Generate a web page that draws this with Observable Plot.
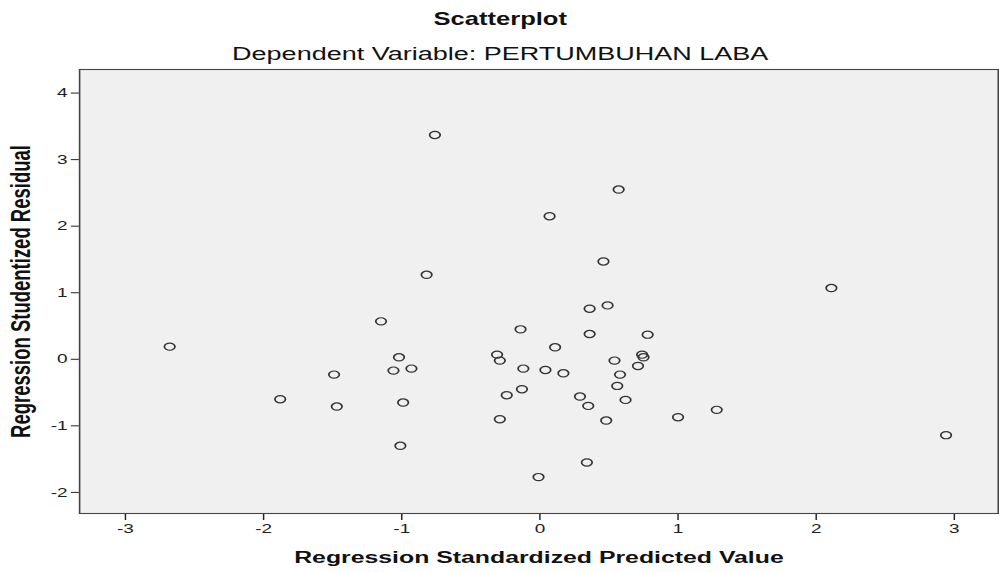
<!DOCTYPE html>
<html>
<head>
<meta charset="utf-8">
<script src="https://cdn.jsdelivr.net/npm/d3@7"></script>
<script src="https://cdn.jsdelivr.net/npm/@observablehq/plot@0.6"></script>
<style>
  html, body { margin: 0; padding: 0; background: #ffffff; }
  #chart svg { display: block; }
</style>
</head>
<body>
<div id="chart"></div>
<script>
// ---- data ----
const predicted = [-0.76, 0.57, 0.07, 0.46, -0.82, 2.11, 0.36, 0.49, -1.15, -0.14, 0.36, 0.78, -2.68, 0.11, -1.02, -0.31, -0.29, 0.54, 0.74, 0.75, 0.71, -1.06, -0.93, -1.49, -0.12, 0.04, 0.17, 0.58, 0.56, -0.13, -1.88, 0.62, 0.29, -0.24, -1.47, -0.99, 0.35, -0.29, 0.48, 1.00, 1.28, -1.01, 0.34, -0.01, 2.94];
const residual  = [3.37, 2.55, 2.15, 1.47, 1.27, 1.07, 0.76, 0.81, 0.57, 0.45, 0.38, 0.37, 0.19, 0.18, 0.03, 0.07, -0.02, -0.02, 0.07, 0.03, -0.10, -0.17, -0.14, -0.23, -0.14, -0.16, -0.21, -0.23, -0.40, -0.45, -0.60, -0.61, -0.56, -0.54, -0.71, -0.65, -0.70, -0.90, -0.92, -0.87, -0.76, -1.30, -1.55, -1.77, -1.14];
const xTicks = [-3, -2, -1, 0, 1, 2, 3];
const yTicks = [-2, -1, 0, 1, 2, 3, 4];
const titleText = "Scatterplot";
const subtitleText = "Dependent Variable: PERTUMBUHAN LABA";
const xLabel = "Regression Standardized Predicted Value";
const yLabel = "Regression Studentized Residual";

const points = predicted.map((x, i) => ({x, y: residual[i]}));

// The reference picture is stretched horizontally; draw at a base width and stretch the SVG.
const FINAL_W = 999, H = 572, W = 684;
const font = "'Liberation Sans', Arial, Helvetica, sans-serif";

const chart = Plot.plot({
  width: W,
  height: H,
  marginLeft: 54,
  marginRight: 1,
  marginTop: 69,
  marginBottom: 59,
  style: {fontFamily: font, fontSize: "13px", background: "#ffffff", color: "#222"},
  x: {domain: [-3.332, 3.318]},
  y: {domain: [-2.317, 4.354]},
  marks: [
    Plot.frame({fill: "#f0f0f0", stroke: null}),
    Plot.axisX({ticks: xTicks, tickFormat: d => String(d), tickSize: 7, tickPadding: 3, label: null, color: "#222", fontSize: 13}),
    Plot.axisY({ticks: yTicks, tickFormat: d => String(d), tickSize: 5.5, tickPadding: 2.7, label: null, color: "#222", fontSize: 13}),
    Plot.dot(points, {x: "x", y: "y", r: 3.6, stroke: "#333", strokeWidth: 1.2, fill: "none"}),
    Plot.frame({stroke: "#444", strokeWidth: 1.1}),
    Plot.text([titleText], {text: d => d, frameAnchor: "top", dx: -26.5, dy: -50.5, lineAnchor: "middle", fontWeight: "bold", fontSize: 17.5, fill: "#111"}),
    Plot.text([subtitleText], {text: d => d, frameAnchor: "top", dx: -26.5, dy: -15.5, lineAnchor: "middle", fontSize: 18.5, fill: "#111"}),
    Plot.text([xLabel], {text: d => d, frameAnchor: "bottom", dy: 43.7, lineAnchor: "middle", fontWeight: "bold", fontSize: 17, fill: "#111"}),
    Plot.text([yLabel], {text: d => d, frameAnchor: "left", dx: -39.6, rotate: -90, lineAnchor: "middle", textAnchor: "middle", fontWeight: "bold", fontSize: 18.5, fill: "#111"})
  ]
});

chart.setAttribute("width", FINAL_W);
chart.setAttribute("height", H);
chart.setAttribute("preserveAspectRatio", "none");
chart.style.width = FINAL_W + "px";
chart.style.height = H + "px";
chart.style.maxWidth = "none";
document.getElementById("chart").appendChild(chart);
</script>
</body>
</html>
